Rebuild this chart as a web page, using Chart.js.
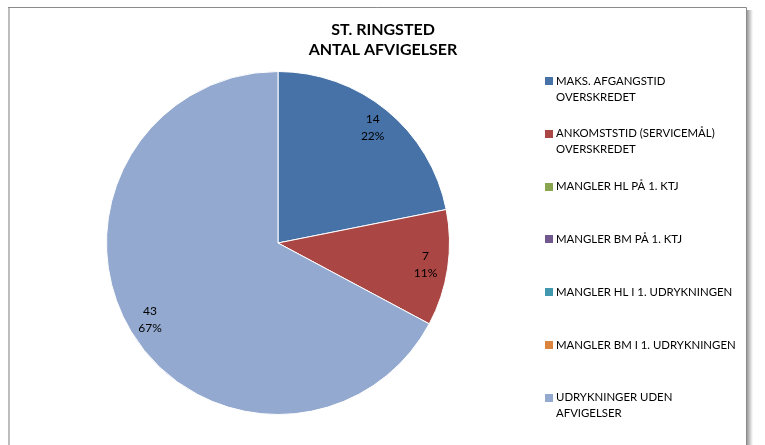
<!DOCTYPE html>
<html>
<head>
<meta charset="utf-8">
<script src="https://cdn.jsdelivr.net/npm/chart.js@4"></script>
<style>
html,body{margin:0;padding:0;background:#fff;}
#wrap{position:relative;width:765px;height:445px;}
</style>
</head>
<body>
<div id="wrap"><canvas id="c" width="765" height="445"></canvas></div>
<script>
const titleLines = ["ST. RINGSTED", "ANTAL AFVIGELSER"];
const categories = [
  ["MAKS. AFGANGSTID", "OVERSKREDET"],
  ["ANKOMSTSTID (SERVICEMÅL)", "OVERSKREDET"],
  ["MANGLER HL PÅ 1. KTJ"],
  ["MANGLER BM PÅ 1. KTJ"],
  ["MANGLER HL I 1. UDRYKNINGEN"],
  ["MANGLER BM I 1. UDRYKNINGEN"],
  ["UDRYKNINGER UDEN", "AFVIGELSER"]
];
const values = [14, 7, 0, 0, 0, 0, 43];
const colors = ["#4672A8", "#AA4643", "#89A54E", "#71588F", "#4198AF", "#DB843D", "#93A9CF"];

const FONT = "Lato, 'Noto Sans', sans-serif";

const framePlugin = {
  id: 'frame',
  beforeDraw(chart) {
    const ctx = chart.ctx;
    ctx.save();
    ctx.fillStyle = '#fff';
    ctx.fillRect(0, 0, chart.width, chart.height);
    const g = ctx.createLinearGradient(747, 0, 753, 0);
    g.addColorStop(0, 'rgba(120,120,120,0.75)');
    g.addColorStop(1, 'rgba(120,120,120,0)');
    ctx.fillStyle = g;
    ctx.fillRect(747, 10, 6, chart.height - 10);
    ctx.strokeStyle = '#8a8a8a';
    ctx.lineWidth = 1;
    ctx.beginPath();
    ctx.moveTo(8, 7.5); ctx.lineTo(746.5, 7.5); ctx.lineTo(746.5, chart.height);
    ctx.stroke();
    ctx.strokeStyle = '#bdbdbd';
    ctx.lineWidth = 2;
    ctx.beginPath();
    ctx.moveTo(9, 8); ctx.lineTo(9, chart.height);
    ctx.stroke();
    ctx.restore();
  }
};

const decorPlugin = {
  id: 'decor',
  afterDatasetsDraw(chart) {
    const ctx = chart.ctx;
    const meta = chart.getDatasetMeta(0);
    const data = chart.data.datasets[0].data;
    const total = data.reduce((a, b) => a + b, 0);
    ctx.save();
    ctx.fillStyle = '#000';
    ctx.font = "12px " + FONT;
    ctx.textAlign = 'center';
    ctx.textBaseline = 'middle';
    meta.data.forEach((arc, i) => {
      const v = data[i];
      if (!v) return;
      const p = arc.getProps(['x', 'y', 'startAngle', 'endAngle', 'outerRadius'], true);
      const mid = (p.startAngle + p.endAngle) / 2;
      const r = p.outerRadius * 0.87;
      const cx = p.x + Math.cos(mid) * r;
      const cy = p.y + Math.sin(mid) * r;
      ctx.fillText(String(v), cx, cy - 8.5);
      ctx.fillText(Math.round(v / total * 100) + '%', cx, cy + 8.5);
    });
    ctx.restore();
  },
  afterDraw(chart) {
    const ctx = chart.ctx;
    ctx.save();
    ctx.fillStyle = '#000';
    ctx.font = "bold 16px " + FONT;
    ctx.textAlign = 'center';
    ctx.textBaseline = 'middle';
    titleLines.forEach((t, i) => ctx.fillText(t, 383, 30 + i * 20));
    ctx.font = "11.4px " + FONT;
    ctx.textAlign = 'left';
    const labels = chart.data.labels;
    const bg = chart.data.datasets[0].backgroundColor;
    labels.forEach((lines, i) => {
      const y0 = 81 + i * 52.8;
      ctx.fillStyle = bg[i];
      ctx.fillRect(545, Math.round(y0 - 4), 8, 8);
      ctx.fillStyle = '#000';
      lines.forEach((ln, j) => ctx.fillText(ln, 556, y0 + j * 16));
    });
    ctx.restore();
  }
};

new Chart(document.getElementById('c'), {
  type: 'pie',
  data: {
    labels: categories,
    datasets: [{
      data: values,
      backgroundColor: colors,
      borderColor: '#ffffff',
      borderWidth: 1
    }]
  },
  options: {
    responsive: false,
    animation: false,
    events: [],
    layout: { padding: { left: 106, right: 315, top: 71, bottom: 30 } },
    plugins: {
      legend: { display: false },
      title: { display: false },
      tooltip: { enabled: false }
    }
  },
  plugins: [framePlugin, decorPlugin]
});
</script>
</body>
</html>
